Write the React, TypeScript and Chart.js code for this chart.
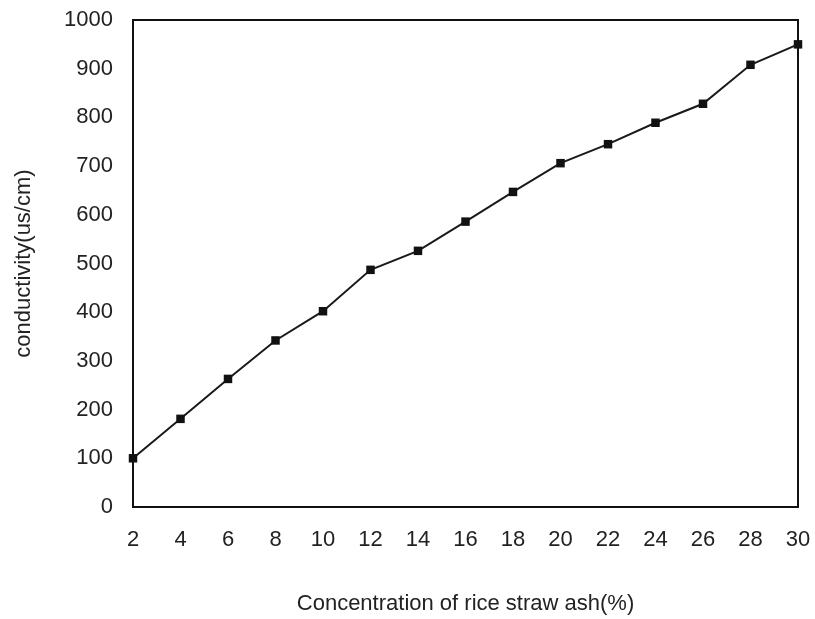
import React, { useEffect, useRef } from "react";
import { Chart, registerables } from "chart.js";

Chart.register(...registerables);

// Rice straw ash concentration (%) and measured conductivity (us/cm)
const concentration = [2, 4, 6, 8, 10, 12, 14, 16, 18, 20, 22, 24, 26, 28, 30];
const conductivity = [100, 181, 263, 342, 402, 487, 526, 586, 647, 706, 745, 789, 828, 908, 950];

const xTitle = "Concentration of rice straw ash(%)";
const yTitle = "conductivity(us/cm)";

const FONT = "Arial, 'Liberation Sans', sans-serif";

// Draws the closed frame around the plotting area
const framePlugin = {
  id: "frame",
  beforeDatasetsDraw(chart: any) {
    const { ctx, chartArea } = chart;
    ctx.save();
    ctx.strokeStyle = "#111";
    ctx.lineWidth = 2;
    ctx.strokeRect(
      chartArea.left,
      chartArea.top,
      chartArea.right - chartArea.left,
      chartArea.bottom - chartArea.top
    );
    ctx.restore();
  },
};

export default function App() {
  const canvasRef = useRef<HTMLCanvasElement | null>(null);

  useEffect(() => {
    if (!canvasRef.current) return;
    const chart = new Chart(canvasRef.current, {
      type: "line",
      data: {
        datasets: [
          {
            data: concentration.map((c, i) => ({ x: c, y: conductivity[i] })),
            borderColor: "#1a1a1a",
            backgroundColor: "#111",
            borderWidth: 2,
            pointStyle: "rect",
            pointRadius: 6,
            pointBorderWidth: 0,
            pointBackgroundColor: "#111",
            tension: 0,
            clip: false as any,
          },
        ],
      },
      options: {
        animation: false,
        responsive: false,
        layout: { padding: { left: 0, right: 17, top: 20, bottom: 0 } },
        plugins: {
          legend: { display: false },
          tooltip: { enabled: false },
        },
        scales: {
          x: {
            type: "linear",
            min: 2,
            max: 30,
            grid: { display: false, drawTicks: false },
            border: { display: false },
            afterFit: (scale: any) => {
              scale.height = 112;
              scale.paddingLeft = 0;
              scale.paddingRight = 0;
            },
            ticks: {
              stepSize: 2,
              autoSkip: false,
              maxRotation: 0,
              padding: 20,
              color: "#222",
              font: { family: FONT, size: 22 },
            },
            title: {
              display: true,
              text: xTitle,
              color: "#222",
              padding: { top: 0, bottom: 2 },
              font: { family: FONT, size: 22 },
            },
          },
          y: {
            type: "linear",
            min: 0,
            max: 1000,
            grid: { display: false, drawTicks: false },
            border: { display: false },
            afterFit: (scale: any) => {
              scale.width = 133;
              scale.paddingTop = 0;
              scale.paddingBottom = 0;
            },
            ticks: {
              stepSize: 100,
              padding: 20,
              color: "#222",
              font: { family: FONT, size: 22 },
              callback: (v: any) => String(v),
            },
            title: {
              display: true,
              text: yTitle,
              color: "#222",
              padding: { top: 11, bottom: 0 },
              font: { family: FONT, size: 22 },
            },
          },
        },
      },
      plugins: [framePlugin],
    });
    return () => chart.destroy();
  }, []);

  return (
    <div
      style={{
        position: "fixed",
        left: 0,
        top: 0,
        width: 815,
        height: 619,
        background: "#fff",
      }}
    >
      <canvas ref={canvasRef} width={815} height={619} />
    </div>
  );
}
